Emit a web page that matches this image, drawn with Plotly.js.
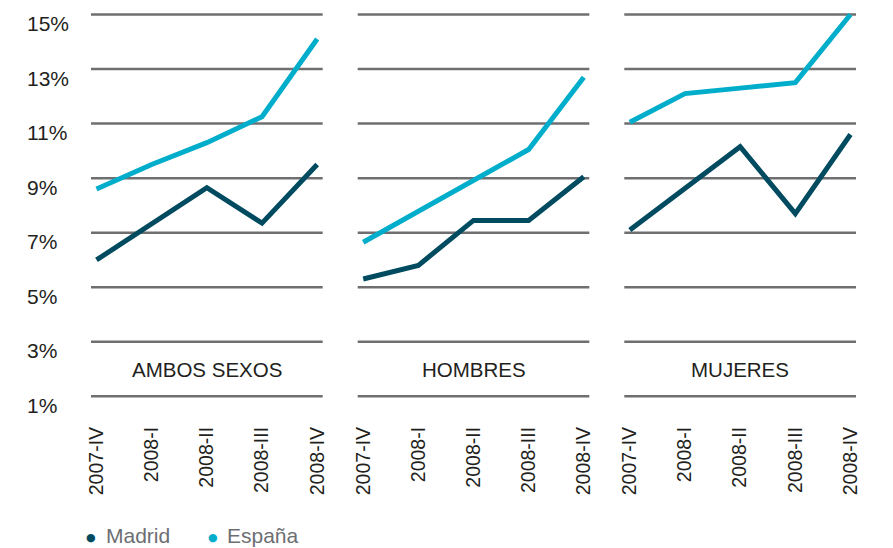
<!DOCTYPE html>
<html>
<head>
<meta charset="utf-8">
<script src="https://cdn.plot.ly/plotly-3.0.1.min.js"></script>
<style>
html,body{margin:0;padding:0;background:#fff;}
#chart{width:893px;height:548px;}
</style>
</head>
<body>
<div id="chart"></div>
<script>
// ---- data ----
const quarters = ["2007-IV", "2008-I", "2008-II", "2008-III", "2008-IV"];
const panels = ["AMBOS SEXOS", "HOMBRES", "MUJERES"];
const madridAmbos  = [6.0, 7.3, 8.65, 7.35, 9.5];
const espanaAmbos  = [8.6, 9.5, 10.3, 11.25, 14.1];
const madridHombres = [5.3, 5.8, 7.45, 7.45, 9.05];
const espanaHombres = [6.65, 7.8, 8.95, 10.05, 12.7];
const madridMujeres = [7.1, 8.6, 10.15, 7.7, 10.6];
const espanaMujeres = [11.05, 12.1, 12.3, 12.5, 15.0];
const yTicks = [1, 3, 5, 7, 9, 11, 13, 15];
const yTickLabels = ["1%", "3%", "5%", "7%", "9%", "11%", "13%", "15%"];
const seriesNames = ["Madrid", "España"];

// ---- styling ----
const colMadrid = "#004b5f";
const colEspana = "#00adca";
const gridCol = "#6f6f72";
const textCol = "#231f20";
const font = "Liberation Sans, Arial, Helvetica, sans-serif";

const madridSets = [madridAmbos, madridHombres, madridMujeres];
const espanaSets = [espanaAmbos, espanaHombres, espanaMujeres];

const traces = [];
for (let i = 0; i < 3; i++) {
  const xa = i === 0 ? "x" : "x" + (i + 1);
  traces.push({x: quarters, y: espanaSets[i], xaxis: xa, yaxis: "y", type: "scatter", mode: "lines",
    line: {color: colEspana, width: 5}, showlegend: false, hoverinfo: "skip"});
  traces.push({x: quarters, y: madridSets[i], xaxis: xa, yaxis: "y", type: "scatter", mode: "lines",
    line: {color: colMadrid, width: 5}, showlegend: false, hoverinfo: "skip"});
}

const W = 893, H = 548;
const domains = [[91, 322.7], [357.7, 589.3], [624.3, 856]];
const yr = [0.9, 15.1];
const pxPerUnit = 27.27;
const topPx = 14.5 - 0.1 * pxPerUnit;
const botPx = 396.3 + 0.1 * pxPerUnit;

const layout = {
  width: W, height: H,
  margin: {l: 0, r: 0, t: 0, b: 0},
  paper_bgcolor: "#fff", plot_bgcolor: "#fff",
  showlegend: false,
  font: {family: font, color: textCol, size: 18},
  yaxis: {range: yr, domain: [1 - botPx / H, 1 - topPx / H], tickvals: yTicks, showticklabels: false,
    showgrid: false, zeroline: false, showline: false, fixedrange: true},
  annotations: [],
  shapes: []
};

for (let i = 0; i < 3; i++) {
  const xa = i === 0 ? "x" : "x" + (i + 1);
  const key = i === 0 ? "xaxis" : "xaxis" + (i + 1);
  layout[key] = {
    type: "category", categoryarray: quarters, categoryorder: "array",
    domain: [domains[i][0] / W, domains[i][1] / W], range: [-0.1, 4.1],
    anchor: "y", showgrid: false, zeroline: false, showline: false,
    tickangle: -90, ticks: "", ticklabelstandoff: 23,
    tickfont: {family: font, size: 19.5, color: textCol}, fixedrange: true
  };
  for (let k = 0; k < yTicks.length; k++) {
    layout.shapes.push({type: "line", xref: xa + " domain", yref: "y",
      x0: 0, x1: 1, y0: yTicks[k], y1: yTicks[k], line: {color: gridCol, width: 2.5}, layer: "below"});
  }
  layout.annotations.push({text: panels[i], xref: xa + " domain", yref: "y",
    x: 0.5, y: 2, xanchor: "center", yanchor: "middle", showarrow: false,
    font: {family: font, size: 20.5, color: textCol}});
}

// y tick labels (left aligned, sitting just below each gridline)
for (let k = 0; k < yTicks.length; k++) {
  layout.annotations.push({text: yTickLabels[k], xref: "paper", yref: "y", x: 25 / W, y: yTicks[k],
    xanchor: "left", yanchor: "middle", yshift: -9, showarrow: false,
    font: {family: font, size: 21, color: textCol}});
}

// legend
const legendCols = [colMadrid, colEspana];
const legendDotX = [90.7, 213.3];
const legendTextX = [104, 225];
for (let s = 0; s < 2; s++) {
  layout.annotations.push({text: "●", xref: "paper", yref: "paper", x: legendDotX[s] / W, y: 1 - 537.5 / H,
    xanchor: "center", yanchor: "middle", showarrow: false, font: {family: "DejaVu Sans, sans-serif", size: 11, color: legendCols[s]}});
  layout.annotations.push({text: seriesNames[s], xref: "paper", yref: "paper", x: legendTextX[s] / W, y: 1 - 535.5 / H,
    xanchor: "left", yanchor: "middle", showarrow: false, font: {family: font, size: 21, color: "#6d6e71"}});
}

Plotly.newPlot("chart", traces, layout, {displayModeBar: false, staticPlot: true});
</script>
</body>
</html>
